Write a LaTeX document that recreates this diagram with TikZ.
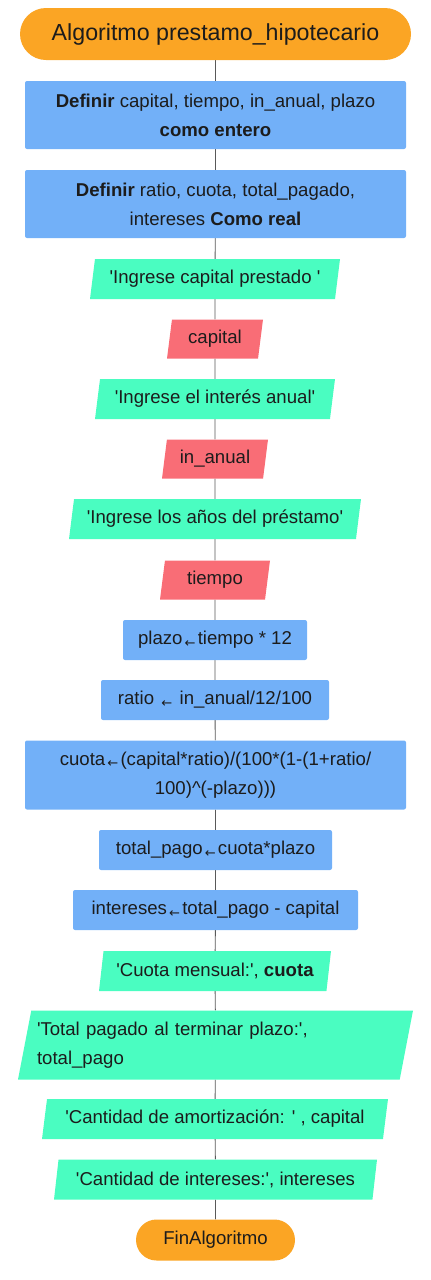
\documentclass[tikz,border=0pt]{standalone}
\usepackage{fontspec}
\setmainfont{Liberation Sans}
\newfontfamily\flechafont{DejaVu Sans}
\usetikzlibrary{shapes.geometric,backgrounds}

\definecolor{naranja}{HTML}{FBA524}
\definecolor{azul}{HTML}{72B0F8}
\definecolor{verde}{HTML}{4AFDC1}
\definecolor{rojo}{HTML}{F96D76}
\definecolor{tinta}{HTML}{1C1C1C}
\newcommand{\asigna}{{\flechafont\fontsize{13}{13}\selectfont\,\raisebox{-2.5pt}{←}\,}}
\newcommand{\q}{\textquotesingle}

\begin{document}
\begin{tikzpicture}[x=1pt,y=-1pt,
  texto/.style={text=tinta,font=\fontsize{18.6}{29}\selectfont,inner sep=0pt,align=center},
  terminal/.style={texto,rectangle,fill=naranja,rounded corners=#1},
  proceso/.style={texto,rectangle,fill=azul,rounded corners=2pt},
  entrada/.style={texto,trapezium,trapezium left angle=74,trapezium right angle=106,
    trapezium stretches body,fill=verde},
  lectura/.style={entrada,fill=rojo},
  linea/.style={draw=black!65,line width=0.9pt}]
\useasboundingbox (0,0) rectangle (431,1280);

\node[terminal=26pt,minimum width=391,minimum height=52,font=\fontsize{23.2}{26}\selectfont] (inicio) at (215.5,34) {Algoritmo prestamo\_hipotecario};
\node[proceso,minimum width=381,minimum height=68] (def1) at (215.5,115) {\textbf{Definir} capital, tiempo, in\_anual, plazo\\\textbf{como entero}};
\node[proceso,minimum width=381,minimum height=68] (def2) at (215.5,204) {\textbf{Definir} ratio, cuota, total\_pagado,\\intereses \textbf{Como real}};
\node[entrada,minimum width=250,minimum height=40] (sal1) at (215,279) {\q Ingrese capital prestado \q};
\node[lectura,minimum width=96,minimum height=39] (lee1) at (215,339) {capital};
\node[entrada,minimum width=240,minimum height=40] (sal2) at (215,399) {\q Ingrese el interés anual\q};
\node[lectura,minimum width=106,minimum height=39] (lee2) at (215,459) {in\_anual};
\node[entrada,minimum width=292,minimum height=40] (sal3) at (215,519) {\q Ingrese los años del préstamo\q};
\node[lectura,minimum width=110,minimum height=39] (lee3) at (215,580) {tiempo};
\node[proceso,minimum width=184,minimum height=40] (asig1) at (215,640) {plazo\asigna tiempo * 12};
\node[proceso,minimum width=228,minimum height=40] (asig2) at (215,700) {ratio \asigna\ in\_anual/12/100};
\node[proceso,minimum width=381,minimum height=69] (asig3) at (215.5,775) {cuota\asigna(capital*ratio)/(100*(1-(1+ratio/\\100)\^{}(-plazo)))};
\node[proceso,minimum width=233,minimum height=40] (asig4) at (215.5,850) {total\_pago\asigna cuota*plazo};
\node[proceso,minimum width=285,minimum height=40] (asig5) at (215.5,910) {intereses\asigna total\_pago - capital};
\node[entrada,minimum width=232,minimum height=40] (sal4) at (215,971) {\q Cuota mensual:\q, \textbf{cuota}};
\node[entrada,minimum width=395,minimum height=69,align=left,text width=357] (sal5) at (215.5,1045) {\q Total pagado al terminar plazo:\q,\\total\_pago};
\node[entrada,minimum width=346,minimum height=40] (sal6) at (215,1119) {\q Cantidad de amortización: \q\ , capital};
\node[entrada,minimum width=323,minimum height=40] (sal7) at (215.5,1179.5) {\q Cantidad de intereses:\q, intereses};
\node[terminal=20.5pt,minimum width=159,minimum height=41] (fin) at (215.5,1240) {FinAlgoritmo};

% conectores
\begin{scope}[on background layer]
\draw[linea] (inicio) -- (def1) -- (def2) -- (sal1) -- (lee1) -- (sal2) -- (lee2) -- (sal3) -- (lee3)
  -- (asig1) -- (asig2) -- (asig3) -- (asig4) -- (asig5) -- (sal4) -- (sal5) -- (sal6) -- (sal7) -- (fin);
\end{scope}
\end{tikzpicture}
\end{document}
